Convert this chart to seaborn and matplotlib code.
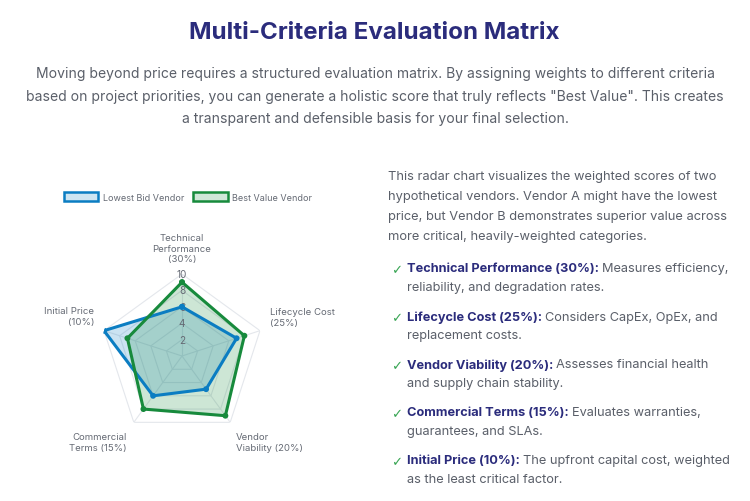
import numpy as np
import pandas as pd
import seaborn as sns
import matplotlib
matplotlib.use('Agg')
import matplotlib.pyplot as plt
from matplotlib.patches import Patch

# ---- data ----
criteria = ['Technical\nPerformance\n(30%)', 'Lifecycle Cost\n(25%)',
            'Vendor\nViability (20%)', 'Commercial\nTerms (15%)', 'Initial Price\n(10%)']
lowest_bid = [6, 7, 5, 6, 10]
best_value = [9, 8, 9, 8, 7]
vendors = ['Lowest Bid Vendor', 'Best Value Vendor']
ring_ticks = [2, 4, 6, 8, 10]

title = 'Multi-Criteria Evaluation Matrix'
subtitle = ['Moving beyond price requires a structured evaluation matrix. By assigning weights to different criteria',
            'based on project priorities, you can generate a holistic score that truly reflects "Best Value". This creates',
            'a transparent and defensible basis for your final selection.']
intro = ['This radar chart visualizes the weighted scores of two',
         'hypothetical vendors. Vendor A might have the lowest',
         'price, but Vendor B demonstrates superior value across',
         'more critical, heavily-weighted categories.']
item_heads = ['Technical Performance (30%):', 'Lifecycle Cost (25%):', 'Vendor Viability (20%):',
              'Commercial Terms (15%):', 'Initial Price (10%):']
item_first = ['Measures efficiency,', 'Considers CapEx, OpEx, and', 'Assesses financial health',
              'Evaluates warranties,', 'The upfront capital cost, weighted']
item_second = ['reliability, and degradation rates.', 'replacement costs.', 'and supply chain stability.',
               'guarantees, and SLAs.', 'as the least critical factor.']

BLUE = '#0b7dc2'
GREEN = '#178a3c'
NAVY = '#2b2c7c'
GRAY = '#5a5f69'
LABEL = '#656a74'
GRID = '#e4e7ec'

sns.set_theme(style='white')
plt.rcParams['font.family'] = ['Inter', 'DejaVu Sans']

W, H = 750, 502
fig = plt.figure(figsize=(W / 100, H / 100), dpi=100)
fig.patch.set_facecolor('white')


def fx(x):
    return x / W


def fy(y):
    return 1 - y / H


# header
fig.text(fx(374), fy(33), title, ha='center', va='center', fontsize=17.4, fontweight='bold', color=NAVY)
for line, y in zip(subtitle, [74, 96.5, 118.5]):
    fig.text(fx(375), fy(y), line, ha='center', va='center', fontsize=10.05, color=GRAY)

# ---- radar ----
n = len(criteria)
theta = np.linspace(0, 2 * np.pi, n, endpoint=False)
cx, cy, rad = 182, 357, 82
ax = fig.add_axes([fx(cx - rad), fy(cy + rad), 2 * rad / W, 2 * rad / H], projection='polar')
ax.set_theta_offset(np.pi / 2)
ax.set_theta_direction(-1)
ax.set_ylim(0, 10)
ax.grid(False)
ax.spines['polar'].set_visible(False)
ax.set_xticks([])
ax.set_yticks([])
ax.patch.set_alpha(0)

ring_theta = np.append(theta, theta[0])
for r in ring_ticks:
    ax.plot(ring_theta, [r] * (n + 1), color=GRID, lw=0.8, zorder=1)
for t in theta:
    ax.plot([t, t], [0, 10], color=GRID, lw=0.8, zorder=1)
for r in ring_ticks:
    ax.text(0, r, str(r), ha='center', va='center', fontsize=7.2, color=LABEL, zorder=3.5)

rows = []
for name, vals in zip(vendors, [lowest_bid, best_value]):
    for t, v in zip(ring_theta, vals + vals[:1]):
        rows.append({'vendor': name, 'theta': t, 'score': v})
df = pd.DataFrame(rows)
palette = {vendors[0]: BLUE, vendors[1]: GREEN}

for name in vendors:
    sub = df[df['vendor'] == name]
    ax.fill(sub['theta'], sub['score'], color=palette[name], alpha=0.21, lw=0, zorder=3)
sns.lineplot(data=df, x='theta', y='score', hue='vendor', palette=palette, sort=False,
             estimator=None, lw=2.2, legend=False, ax=ax, zorder=4)
sns.scatterplot(data=df, x='theta', y='score', hue='vendor', palette=palette, s=18,
                edgecolor='none', legend=False, ax=ax, zorder=5)
ax.set_xlabel('')
ax.set_ylabel('')
ax.set_ylim(0, 10)

label_style = [((0, 11), 'center', 'bottom'), ((10, 4), 'left', 'bottom'), ((6, -10), 'left', 'top'),
               ((-7, -10), 'right', 'top'), ((-10, 5), 'right', 'bottom')]
for lab, t, (off, ha, va) in zip(criteria, theta, label_style):
    ax.annotate(lab, xy=(t, 10), xytext=off, textcoords='offset pixels', ha=ha, va=va,
                multialignment=ha, fontsize=6.9, color=LABEL,
                linespacing=1.2, annotation_clip=False)

handles = [Patch(facecolor=(*matplotlib.colors.to_rgb(c), 0.2), edgecolor=c, lw=1.8) for c in [BLUE, GREEN]]
fig.legend(handles, vendors, loc='center', bbox_to_anchor=(fx(188), fy(198)), ncol=2, frameon=False,
           fontsize=6.5, handlelength=3.8, handleheight=1.2, columnspacing=1.0, handletextpad=0.5,
           labelcolor=LABEL)

# ---- right column text ----
for line, y in zip(intro, [180, 200, 220, 240]):
    fig.text(fx(388), fy(y), line, ha='left', va='baseline', fontsize=9.25, color=GRAY)

fig.canvas.draw()
renderer = fig.canvas.get_renderer()
for i, (head, first, second) in enumerate(zip(item_heads, item_first, item_second)):
    y1 = 272.5 + 48 * i
    fig.text(fx(391), fy(y1 + 2), '\u2713', ha='left', va='baseline', fontsize=9.5,
             color='#3aa655', family='DejaVu Sans')
    t = fig.text(fx(407), fy(y1), head, ha='left', va='baseline', fontsize=9.2,
                 fontweight='bold', color=NAVY)
    w = t.get_window_extent(renderer).width
    fig.text(fx(407 + w + 3), fy(y1), first, ha='left', va='baseline', fontsize=9.2, color=GRAY)
    fig.text(fx(407), fy(y1 + 19), second, ha='left', va='baseline', fontsize=9.2, color=GRAY)

fig.savefig('out.png', dpi=100, facecolor='white')
